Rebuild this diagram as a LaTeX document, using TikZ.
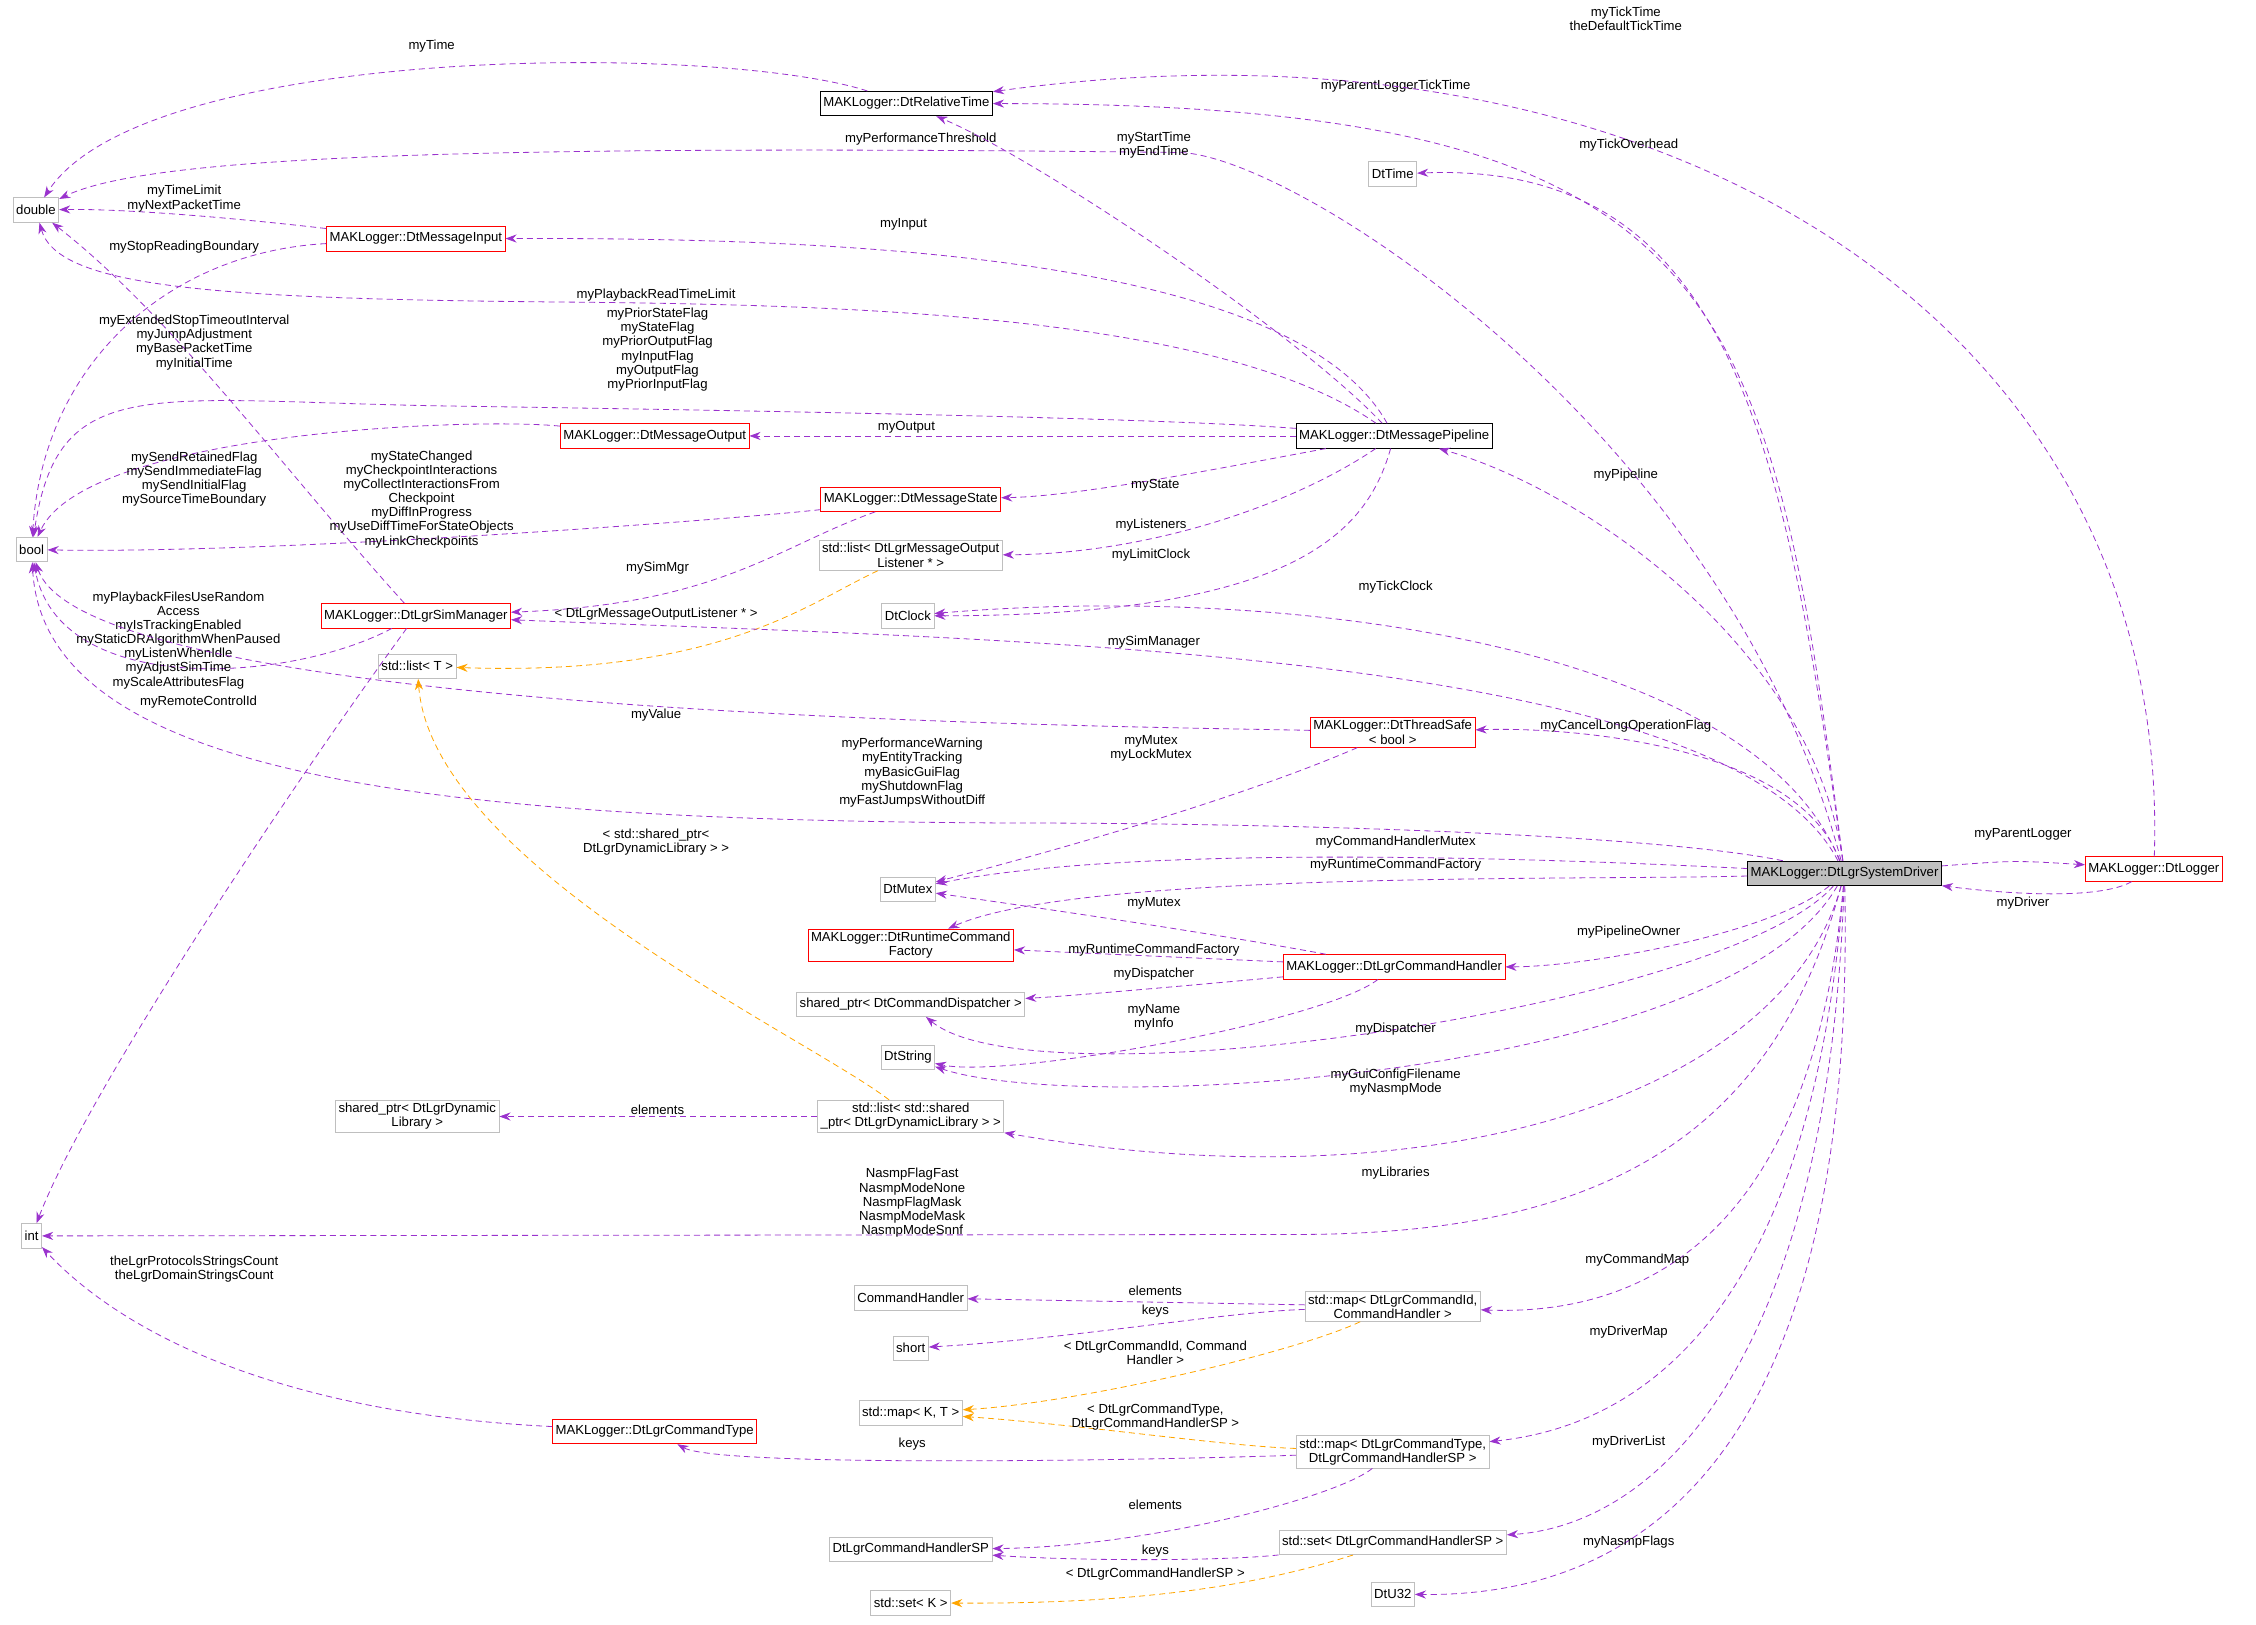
\documentclass[tikz,border=0pt]{standalone}
\usepackage{fontspec}
\setmainfont{Liberation Sans}
\usetikzlibrary{arrows.meta}
\definecolor{edgepurple}{HTML}{9A32CD}
\definecolor{tmplorange}{HTML}{FFA500}
\definecolor{boxgray}{HTML}{BFBFBF}
\begin{document}
\begin{tikzpicture}[x=0.05cm, y=-0.05cm,
    every node/.style={font=\fontsize{13}{14}\selectfont},
    cls/.style={draw=boxgray, fill=white, inner sep=3pt, minimum height=0.85cm, align=center, line width=0.8pt},
    red/.style={cls, draw=red},
    blk/.style={cls, draw=black},
    main/.style={cls, draw=black, fill=boxgray},
    lbl/.style={align=center, inner sep=1pt},
    dep/.style={draw=edgepurple, dashed, line width=0.8pt, dash pattern=on 6pt off 4pt, -{Stealth[length=11pt,width=8pt]}},
    tmpl/.style={dep, draw=tmplorange}]
  \useasboundingbox (0,0) rectangle (1568,1129);

  % types
  \node[cls] (dbl)   at (25,146) {double};
  \node[cls] (bool)  at (22,382) {bool};
  \node[cls] (int)   at (22,859) {int};
  \node[blk] (rt)    at (630,72) {MAKLogger::DtRelativeTime};
  \node[cls] (dtime) at (968,121) {DtTime};
  \node[red] (inp)   at (289,166) {MAKLogger::DtMessageInput};
  \node[red] (outp)  at (455,303) {MAKLogger::DtMessageOutput};
  \node[blk] (pipe)  at (969,303) {MAKLogger::DtMessagePipeline};
  \node[red] (state) at (633,347) {MAKLogger::DtMessageState};
  \node[cls] (olist) at (633,386) {std::list\textless{} DtLgrMessageOutput\\Listener * \textgreater};
  \node[cls] (clock) at (631,428) {DtClock};
  \node[red] (sim)   at (289,428) {MAKLogger::DtLgrSimManager};
  \node[cls] (tlist) at (290,463) {std::list\textless{} T \textgreater};
  \node[red] (tsafe) at (968,509) {MAKLogger::DtThreadSafe\\\textless{} bool \textgreater};
  \node[cls] (mutex) at (631,618) {DtMutex};
  \node[main] (drv)  at (1282,607) {MAKLogger::DtLgrSystemDriver};
  \node[red] (lgr)   at (1497,604) {MAKLogger::DtLogger};
  \node[red] (rcf)   at (633,657) {MAKLogger::DtRuntimeCommand\\Factory};
  \node[red] (cmdh)  at (969,672) {MAKLogger::DtLgrCommandHandler};
  \node[cls] (disp)  at (633,698) {shared\_ptr\textless{} DtCommandDispatcher \textgreater};
  \node[cls] (dstr)  at (631,735) {DtString};
  \node[cls] (dynlib) at (290,776) {shared\_ptr\textless{} DtLgrDynamic\\Library \textgreater};
  \node[cls] (shlist) at (633,776) {std::list\textless{} std::shared\\\_ptr\textless{} DtLgrDynamicLibrary \textgreater{} \textgreater};
  \node[cls] (chand) at (633,902) {CommandHandler};
  \node[cls] (mapid) at (968,908) {std::map\textless{} DtLgrCommandId,\\CommandHandler \textgreater};
  \node[cls] (short) at (633,937) {short};
  \node[cls] (mapkt) at (633,982) {std::map\textless{} K, T \textgreater};
  \node[red] (ctype) at (455,995) {MAKLogger::DtLgrCommandType};
  \node[cls] (maptype) at (968,1009) {std::map\textless{} DtLgrCommandType,\\DtLgrCommandHandlerSP \textgreater};
  \node[cls] (sp)    at (633,1077) {DtLgrCommandHandlerSP};
  \node[cls] (set)   at (968,1072) {std::set\textless{} DtLgrCommandHandlerSP \textgreater};
  \node[cls] (setk)  at (633,1114) {std::set\textless{} K \textgreater};
  \node[cls] (u32)   at (968,1108) {DtU32};

  % members of the upper classes
  \draw[dep] (rt) .. controls (500,30) and (100,30) .. (dbl) node[lbl] at (300,32) {myTime};
  \draw[dep] (drv) .. controls (1230,200) and (1200,72) .. (rt) node[lbl] at (970,60) {myParentLoggerTickTime};
  \draw[dep] (lgr) .. controls (1510,220) and (1150,0) .. (rt) node[lbl] at (1130,13) {myTickTime\\theDefaultTickTime};
  \draw[dep] (drv) .. controls (1200,300) and (900,108) .. (820,106) .. controls (300,100) and (100,110) .. (dbl) node[lbl] at (640,97) {myPerformanceThreshold};
  \draw[dep] (pipe) .. controls (900,230) and (720,110) .. (rt) node[lbl] at (802,101) {myStartTime\\myEndTime};
  \draw[dep] (drv) .. controls (1240,300) and (1200,112) .. (dtime) node[lbl] at (1132,101) {myTickOverhead};
  \draw[dep] (inp) .. controls (150,150) and (80,145) .. (dbl) node[lbl] at (128,138) {myTimeLimit\\myNextPacketTime};
  \draw[dep] (pipe) .. controls (900,180) and (600,165) .. (inp) node[lbl] at (628,156) {myInput};
  \draw[dep] (inp) .. controls (120,175) and (30,250) .. (bool) node[lbl] at (128,172) {myStopReadingBoundary};
  \draw[dep] (pipe) .. controls (850,220) and (600,212) .. (400,210) .. controls (150,208) and (40,200) .. (dbl) node[lbl] at (456,205) {myPlaybackReadTimeLimit};
  \draw[dep] (pipe) .. controls (800,290) and (500,285) .. (300,282) .. controls (100,278) and (40,260) .. (bool) node[lbl] at (457,243) {myPriorStateFlag\\myStateFlag\\myPriorOutputFlag\\myInputFlag\\myOutputFlag\\myPriorInputFlag};
  \draw[dep] (sim) .. controls (200,330) and (120,220) .. (dbl) node[lbl] at (135,238) {myExtendedStopTimeoutInterval\\myJumpAdjustment\\myBasePacketTime\\myInitialTime};
  \draw[dep] (outp) .. controls (330,290) and (60,300) .. (bool) node[lbl] at (135,333) {mySendRetainedFlag\\mySendImmediateFlag\\mySendInitialFlag\\mySourceTimeBoundary};
  \draw[dep] (pipe) -- (outp) node[lbl] at (630,297) {myOutput};
  \draw[dep] (state) .. controls (520,360) and (200,385) .. (bool) node[lbl] at (293,347) {myStateChanged\\myCheckpointInteractions\\myCollectInteractionsFrom\\Checkpoint\\myDiffInProgress\\myUseDiffTimeForStateObjects\\myLinkCheckpoints};
  \draw[dep] (pipe) .. controls (850,325) and (750,345) .. (state) node[lbl] at (803,337) {myState};
  \draw[dep] (pipe) .. controls (900,350) and (800,385) .. (olist) node[lbl] at (800,365) {myListeners};
  \draw[dep] (pipe) .. controls (950,370) and (900,428) .. (clock) node[lbl] at (800,386) {myLimitClock};
  \draw[dep] (drv) .. controls (1260,450) and (1100,340) .. (pipe) node[lbl] at (1130,330) {myPipeline};
  \draw[dep] (drv) .. controls (1220,450) and (900,405) .. (clock) node[lbl] at (970,408) {myTickClock};
  \draw[dep] (state) .. controls (540,380) and (500,420) .. (sim) node[lbl] at (457,395) {mySimMgr};
  \draw[tmpl] (olist) .. controls (560,420) and (500,470) .. (tlist) node[lbl] at (456,427) {\textless{} DtLgrMessageOutputListener * \textgreater};
  \draw[dep] (sim) .. controls (200,475) and (40,485) .. (bool) node[lbl] at (124,445) {myPlaybackFilesUseRandom\\Access\\myIsTrackingEnabled\\myStaticDRAlgorithmWhenPaused\\myListenWhenIdle\\myAdjustSimTime\\myScaleAttributesFlag};
  \draw[dep] (drv) .. controls (1200,450) and (700,445) .. (sim) node[lbl] at (802,446) {mySimManager};
  \draw[dep] (sim) .. controls (200,550) and (60,760) .. (int) node[lbl] at (138,488) {myRemoteControlId};
  \draw[dep] (tsafe) .. controls (800,505) and (60,500) .. (bool) node[lbl] at (456,497) {myValue};
  \draw[dep] (drv) .. controls (1250,520) and (1100,505) .. (tsafe) node[lbl] at (1130,505) {myCancelLongOperationFlag};
  \draw[dep] (drv) .. controls (1150,580) and (900,572) .. (700,572) .. controls (300,570) and (30,540) .. (bool) node[lbl] at (634,537) {myPerformanceWarning\\myEntityTracking\\myBasicGuiFlag\\myShutdownFlag\\myFastJumpsWithoutDiff};

  % command handling
  \draw[dep] (tsafe) .. controls (850,560) and (700,600) .. (mutex) node[lbl] at (800,520) {myMutex\\myLockMutex};
  \draw[dep] (drv) .. controls (1100,598) and (800,585) .. (mutex) node[lbl] at (970,585) {myCommandHandlerMutex};
  \draw[dep] (drv) .. controls (1100,612) and (750,605) .. (rcf) node[lbl] at (970,601) {myRuntimeCommandFactory};
  \draw[dep] (cmdh) .. controls (850,650) and (750,635) .. (mutex) node[lbl] at (802,628) {myMutex};
  \draw[dep] (cmdh) -- (rcf) node[lbl] at (802,660) {myRuntimeCommandFactory};
  \draw[dep] (cmdh) .. controls (880,680) and (750,692) .. (disp) node[lbl] at (802,677) {myDispatcher};
  \draw[dep] (cmdh) .. controls (920,710) and (700,750) .. (dstr) node[lbl] at (802,707) {myName\\myInfo};
  \draw[dep] (drv) .. controls (1230,650) and (1100,672) .. (cmdh) node[lbl] at (1132,648) {myPipelineOwner};
  \draw[dep] (drv) .. controls (1200,700) and (720,770) .. (disp) node[lbl] at (970,715) {myDispatcher};
  \draw[dep] (drv) .. controls (1200,750) and (750,775) .. (dstr) node[lbl] at (970,752) {myGuiConfigFilename\\myNasmpMode};
  \draw[dep] (drv) .. controls (1400,598) .. (lgr) node[lbl] at (1406,580) {myParentLogger};
  \draw[dep] (lgr) .. controls (1460,625) and (1400,622) .. (drv) node[lbl] at (1406,628) {myDriver};

  % containers
  \draw[tmpl] (shlist) .. controls (560,720) and (300,600) .. (tlist) node[lbl] at (456,585) {\textless{} std::shared\_ptr\textless\\DtLgrDynamicLibrary \textgreater{} \textgreater};
  \draw[dep] (shlist) -- (dynlib) node[lbl] at (457,771) {elements};
  \draw[dep] (drv) .. controls (1240,760) and (1000,840) .. (shlist) node[lbl] at (970,815) {myLibraries};
  \draw[dep] (drv) .. controls (1230,800) and (1100,858) .. (900,858) -- (int) node[lbl] at (634,836) {NasmpFlagFast\\NasmpModeNone\\NasmpFlagMask\\NasmpModeMask\\NasmpModeSnnf};
  \draw[dep] (ctype) .. controls (150,980) and (60,900) .. (int) node[lbl] at (135,882) {theLgrProtocolsStringsCount\\theLgrDomainStringsCount};
  \draw[dep] (mapid) -- (chand) node[lbl] at (803,897) {elements};
  \draw[dep] (mapid) .. controls (850,912) and (750,930) .. (short) node[lbl] at (803,911) {keys};
  \draw[tmpl] (mapid) .. controls (900,940) and (750,975) .. (mapkt) node[lbl] at (803,940) {\textless{} DtLgrCommandId, Command\\Handler \textgreater};
  \draw[dep] (drv) .. controls (1260,850) and (1150,915) .. (mapid) node[lbl] at (1138,876) {myCommandMap};
  \draw[tmpl] (maptype) .. controls (850,1005) and (750,990) .. (mapkt) node[lbl] at (803,985) {\textless{} DtLgrCommandType,\\DtLgrCommandHandlerSP \textgreater};
  \draw[dep] (maptype) .. controls (800,1015) and (500,1020) .. (ctype) node[lbl] at (634,1004) {keys};
  \draw[dep] (maptype) .. controls (930,1040) and (800,1075) .. (sp) node[lbl] at (803,1046) {elements};
  \draw[dep] (drv) .. controls (1260,900) and (1150,990) .. (maptype) node[lbl] at (1132,926) {myDriverMap};
  \draw[dep] (set) .. controls (850,1085) and (750,1085) .. (sp) node[lbl] at (803,1078) {keys};
  \draw[tmpl] (set) .. controls (880,1100) and (800,1115) .. (setk) node[lbl] at (803,1094) {\textless{} DtLgrCommandHandlerSP \textgreater};
  \draw[dep] (drv) .. controls (1270,950) and (1150,1060) .. (set) node[lbl] at (1132,1002) {myDriverList};
  \draw[dep] (drv) .. controls (1290,1000) and (1150,1110) .. (u32) node[lbl] at (1132,1072) {myNasmpFlags};
\end{tikzpicture}
\end{document}
